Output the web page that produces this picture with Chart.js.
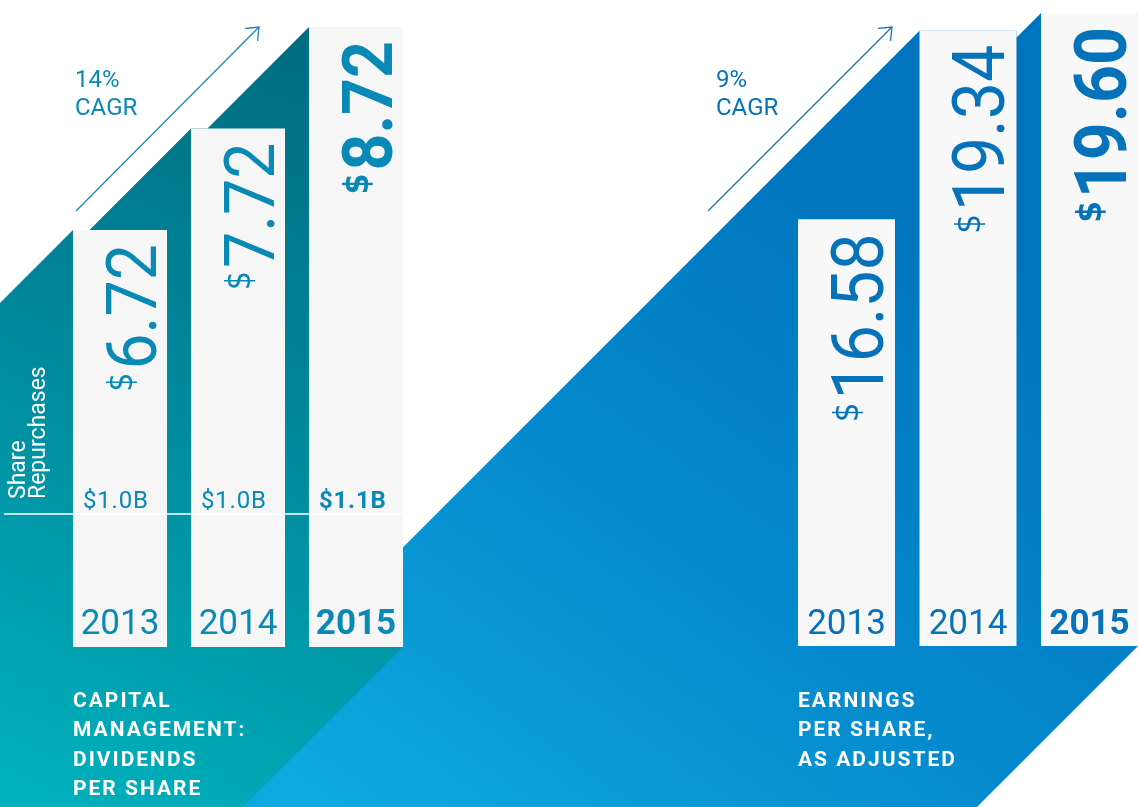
<!DOCTYPE html>
<html><head><meta charset="utf-8">
<script src="https://cdn.jsdelivr.net/npm/chart.js@4/dist/chart.umd.min.js"></script>
<style>
html,body{margin:0;padding:0;background:#fff;overflow:hidden;width:1138px;height:807px;}
#wrap{position:relative;width:1138px;height:807px;overflow:hidden;}
canvas{position:absolute;left:0;top:0;}
</style></head><body>
<div id="wrap">
<canvas id="eps" width="1160" height="807"></canvas>
<canvas id="div" width="1138" height="807"></canvas>
</div>
<script>
// ---- data ----
const years = ['2013', '2014', '2015'];
const dividends = [6.72, 7.72, 8.72];
const eps = [16.58, 19.34, 19.60];
const repurchases = [1.0, 1.0, 1.1];
const cagrDiv = ['14%', 'CAGR'];
const cagrEps = ['9%', 'CAGR'];
const titleDiv = ['CAPITAL', 'MANAGEMENT:', 'DIVIDENDS', 'PER SHARE'];
const titleEps = ['EARNINGS', 'PER SHARE,', 'AS ADJUSTED'];
const sideLabel = ['Share', 'Repurchases'];

const H = 807;
const FONT = 'Roboto, "Noto Sans", sans-serif';

function envelope(chart, makeGrad) {
  const ctx = chart.ctx;
  const bars = chart.getDatasetMeta(0).data;
  const last = bars[bars.length - 1];
  const lastR = last.x + last.width / 2;
  const base = chart.chartArea.bottom;
  ctx.save();
  ctx.beginPath();
  ctx.moveTo(-50, -50); ctx.lineTo(lastR, -50); ctx.lineTo(lastR, base);
  ctx.lineTo(lastR - (H - base), H); ctx.lineTo(-50, H); ctx.closePath();
  ctx.clip();
  ctx.beginPath();
  bars.forEach(b => {
    const L = b.x - b.width / 2, R = b.x + b.width / 2, T = b.y;
    ctx.moveTo(L - (H - T), H + 5);
    ctx.lineTo(L - (H - T), H);
    ctx.lineTo(L, T); ctx.lineTo(R, T); ctx.lineTo(R, H + 5);
    ctx.closePath();
  });
  ctx.fillStyle = makeGrad(ctx);
  ctx.fill('nonzero');
  ctx.restore();
}

function drawValue(ctx, b, value, bold, color, size) {
  const w = bold ? '700' : '400';
  ctx.save();
  ctx.translate(b.x + 36, b.y + 14);
  ctx.rotate(-Math.PI / 2);
  ctx.scale(0.92, 1);
  ctx.fillStyle = color;
  ctx.textBaseline = 'alphabetic';
  ctx.textAlign = 'right';
  ctx.font = `${w} ${size}px ${FONT}`;
  const num = value.toFixed(2);
  ctx.fillText(num, 0, 0);
  const nw = ctx.measureText(num).width;
  ctx.font = `${w} ${Math.round(size * 0.47)}px "DejaVu Sans", ${FONT}`;
  ctx.fillText('$', -nw - 3, -size * 0.34);
  ctx.restore();
}

function drawYears(ctx, bars, color) {
  bars.forEach((b, i) => {
    ctx.save();
    ctx.fillStyle = color;
    ctx.textAlign = 'center';
    ctx.textBaseline = 'alphabetic';
    ctx.font = `${i === bars.length - 1 ? 700 : 400} 35px ${FONT}`;
    ctx.fillText(years[i], b.x, 634);
    ctx.restore();
  });
}

function drawArrow(ctx, x1, y1, x2, y2, color) {
  ctx.save();
  ctx.strokeStyle = color;
  ctx.lineWidth = 1.3;
  ctx.beginPath(); ctx.moveTo(x1, y1); ctx.lineTo(x2, y2); ctx.stroke();
  const a = Math.atan2(y1 - y2, x1 - x2);
  const len = 14;
  ctx.beginPath();
  ctx.moveTo(x2 + len * Math.cos(a + 0.68), y2 + len * Math.sin(a + 0.68));
  ctx.lineTo(x2, y2);
  ctx.lineTo(x2 + len * Math.cos(a - 0.68), y2 + len * Math.sin(a - 0.68));
  ctx.stroke();
  ctx.restore();
}

function drawCagr(ctx, lines, x, color) {
  ctx.save();
  ctx.fillStyle = color;
  ctx.font = `400 24px ${FONT}`;
  ctx.textAlign = 'left';
  ctx.textBaseline = 'alphabetic';
  ctx.fillText(lines[0], x, 87);
  ctx.fillText(lines[1], x, 115);
  ctx.restore();
}

function drawTitle(ctx, lines, x) {
  ctx.save();
  ctx.fillStyle = '#ffffff';
  ctx.font = `700 21px ${FONT}`;
  ctx.letterSpacing = '2px';
  ctx.textAlign = 'left';
  ctx.textBaseline = 'alphabetic';
  lines.forEach((t, i) => ctx.fillText(t, x, 707 + i * 29.4));
  ctx.restore();
}

const commonOpts = (pad, min, max) => ({
  responsive: false,
  animation: false,
  devicePixelRatio: 1,
  layout: { padding: pad },
  plugins: { legend: { display: false }, tooltip: { enabled: false } },
  scales: {
    x: { display: false },
    y: { display: false, min: min, max: max }
  }
});

const TEAL_TXT = '#0989b6';
const BLUE_TXT = '#0672ba';

// ---- right chart: EPS (bottom layer) ----
new Chart(document.getElementById('eps'), {
  type: 'bar',
  data: {
    labels: years,
    datasets: [{
      data: eps,
      backgroundColor: '#f8f8f8',
      borderWidth: 0,
      barPercentage: 0.798,
      categoryPercentage: 1
    }]
  },
  options: commonOpts({ left: 785.75, right: 9.75, top: 11, bottom: 161 }, 10.327, 19.63),
  plugins: [{
    id: 'epsDecor',
    beforeDatasetsDraw(chart) {
      envelope(chart, ctx => {
        const g = ctx.createLinearGradient(330, 807, 820, 120);
        g.addColorStop(0, '#0eaadf');
        g.addColorStop(0.5, '#0589cd');
        g.addColorStop(1, '#0074bc');
        return g;
      });
    },
    afterDatasetsDraw(chart) {
      const ctx = chart.ctx;
      const bars = chart.getDatasetMeta(0).data;
      bars.forEach((b, i) => drawValue(ctx, b, eps[i], i === bars.length - 1, BLUE_TXT, 72));
      drawYears(ctx, bars, BLUE_TXT);
      drawCagr(ctx, cagrEps, 716, BLUE_TXT);
      drawArrow(ctx, 708, 211, 892, 27, '#1a74bb');
      drawTitle(ctx, titleEps, 798);
    }
  }]
});

// ---- left chart: dividends per share (top layer) ----
new Chart(document.getElementById('div'), {
  type: 'bar',
  data: {
    labels: years,
    datasets: [{
      data: dividends,
      backgroundColor: '#f6f6f6',
      borderWidth: 0,
      barPercentage: 0.797,
      categoryPercentage: 1
    }]
  },
  options: commonOpts({ left: 61, right: 723, top: 27, bottom: 160 }, 2.612, 8.72),
  plugins: [{
    id: 'divDecor',
    beforeDatasetsDraw(chart) {
      envelope(chart, ctx => {
        const g = ctx.createLinearGradient(40, 807, 380, 40);
        g.addColorStop(0, '#00b1bd');
        g.addColorStop(0.5, '#008a9d');
        g.addColorStop(1, '#006a7f');
        return g;
      });
    },
    afterDatasetsDraw(chart) {
      const ctx = chart.ctx;
      const bars = chart.getDatasetMeta(0).data;
      const last = bars[bars.length - 1];
      // separator line for share repurchases
      ctx.save();
      ctx.strokeStyle = '#ffffff';
      ctx.lineWidth = 1.5;
      ctx.beginPath(); ctx.moveTo(4, 514); ctx.lineTo(last.x + last.width / 2, 514); ctx.stroke();
      ctx.restore();
      bars.forEach((b, i) => drawValue(ctx, b, dividends[i], i === bars.length - 1, TEAL_TXT, 70));
      // repurchase labels
      bars.forEach((b, i) => {
        ctx.save();
        ctx.fillStyle = TEAL_TXT;
        ctx.font = `${i === bars.length - 1 ? 700 : 400} 24px ${FONT}`;
        ctx.letterSpacing = '0.8px';
        ctx.textAlign = 'left';
        ctx.fillText('$' + repurchases[i].toFixed(1) + 'B', b.x - b.width / 2 + 10, 508);
        ctx.restore();
      });
      drawYears(ctx, bars, TEAL_TXT);
      // side label
      ctx.save();
      ctx.translate(0, 499);
      ctx.rotate(-Math.PI / 2);
      ctx.fillStyle = '#ffffff';
      ctx.font = `400 23px ${FONT}`;
      ctx.textAlign = 'left';
      ctx.fillText(sideLabel[0], 0, 25);
      ctx.fillText(sideLabel[1], 0, 45);
      ctx.restore();
      drawCagr(ctx, cagrDiv, 75, TEAL_TXT);
      drawArrow(ctx, 76, 211, 259, 27, '#1a8bb6');
      drawTitle(ctx, titleDiv, 73);
    }
  }]
});
</script>
</body></html>
